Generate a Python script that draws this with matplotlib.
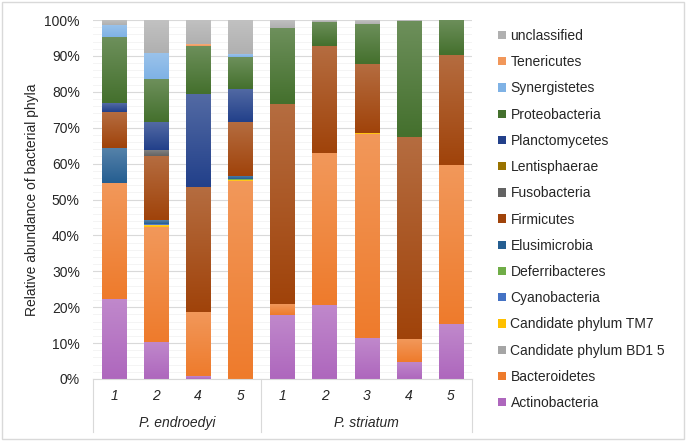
import numpy as np
import matplotlib
matplotlib.use("Agg")
import matplotlib.pyplot as plt
from matplotlib.patches import Patch, Rectangle
from matplotlib.colors import to_rgb
import matplotlib.transforms as mtransforms

plt.rcParams['font.family'] = ['Liberation Sans', 'DejaVu Sans']

# ---- data (percent) ----
sample_labels = ["1", "2", "4", "5", "1", "2", "3", "4", "5"]
groups = ["P. endroedyi", "P. striatum"]
group_sizes = [4, 5]

phyla = ["Actinobacteria", "Bacteroidetes", "Candidate phylum BD1 5",
         "Candidate phylum TM7", "Cyanobacteria", "Deferribacteres",
         "Elusimicrobia", "Firmicutes", "Fusobacteria", "Lentisphaerae",
         "Planctomycetes", "Proteobacteria", "Synergistetes", "Tenericutes",
         "unclassified"]

actinobacteria = [22.2, 10.4, 0.8, 0.0, 17.9, 20.7, 11.3, 4.8, 15.3]
bacteroidetes  = [32.5, 32.0, 18.0, 55.1, 3.0, 42.3, 57.0, 6.3, 44.2]
bd1_5          = [0.0, 0.0, 0.0, 0.0, 0.0, 0.0, 0.0, 0.0, 0.0]
tm7            = [0.0, 0.5, 0.0, 0.2, 0.0, 0.0, 0.3, 0.0, 0.0]
cyanobacteria  = [0.0, 0.4, 0.0, 0.0, 0.0, 0.0, 0.0, 0.0, 0.0]
deferribacteres= [0.0, 0.0, 0.0, 0.3, 0.0, 0.0, 0.0, 0.0, 0.0]
elusimicrobia  = [9.7, 1.0, 0.0, 1.0, 0.0, 0.0, 0.0, 0.0, 0.0]
firmicutes     = [10.0, 17.8, 34.7, 15.0, 55.7, 29.8, 19.1, 56.3, 30.7]
fusobacteria   = [0.0, 1.8, 0.0, 0.0, 0.0, 0.0, 0.0, 0.0, 0.0]
lentisphaerae  = [0.0, 0.0, 0.0, 0.0, 0.0, 0.0, 0.0, 0.0, 0.0]
planctomycetes = [2.5, 7.7, 25.8, 9.3, 0.0, 0.0, 0.0, 0.0, 0.0]
proteobacteria = [18.3, 11.9, 13.4, 8.9, 21.1, 6.7, 11.2, 32.4, 9.8]
synergistetes  = [3.4, 7.4, 0.0, 0.6, 0.0, 0.0, 0.0, 0.0, 0.0]
tenericutes    = [0.0, 0.0, 0.5, 0.0, 0.0, 0.0, 0.0, 0.0, 0.0]
unclassified   = [1.4, 9.1, 6.8, 9.6, 2.3, 0.5, 1.1, 0.2, 0.0]

series = [actinobacteria, bacteroidetes, bd1_5, tm7, cyanobacteria,
          deferribacteres, elusimicrobia, firmicutes, fusobacteria,
          lentisphaerae, planctomycetes, proteobacteria, synergistetes,
          tenericutes, unclassified]

colors = ["#AE67BD", "#EE7B2C", "#A5A5A5", "#FFC000", "#4472C4",
          "#70AD47", "#255E91", "#A0430A", "#636363", "#997300",
          "#22408A", "#44702D", "#7FB2E5", "#F1975A", "#B0B0B0"]


def lighten(c, f):
    r = np.array(to_rgb(c))
    return r + (1 - r) * f


W, H = 686, 441
fig = plt.figure(figsize=(W / 100, H / 100), dpi=100)
left, right, top, bottom = 93, 472, 20, 379
ax = fig.add_axes([left / W, 1 - bottom / H, (right - left) / W, (bottom - top) / H])

x = np.arange(len(sample_labels))
base = np.zeros(len(x))
bar_w = 0.58
for vals, col in zip(series, colors):
    vals = np.array(vals, dtype=float)
    cont = ax.bar(x, vals, bottom=base, width=bar_w, color=col, linewidth=0, zorder=2)
    for rect in cont.patches:
        h = rect.get_height()
        if h <= 0:
            continue
        x0, y0, w = rect.get_x(), rect.get_y(), rect.get_width()
        t = np.linspace(0, 1, 64)[:, None]
        c0 = np.array(to_rgb(col))
        c1 = lighten(col, 0.22)
        img = (c0[None, :] * (1 - t) + c1[None, :] * t)[:, None, :]
        ax.imshow(img, extent=[x0, x0 + w, y0, y0 + h], origin='lower',
                  aspect='auto', interpolation='bilinear', zorder=2.1)
    base += vals

ax.set_xlim(-0.5, len(x) - 0.5)
ax.set_ylim(0, 100)
ax.set_yticks(np.arange(0, 101, 10))
ax.set_yticklabels([f"{v}%" for v in range(0, 101, 10)])
ax.set_yticks(np.arange(0, 101, 2), minor=True)
ax.tick_params(axis='y', which='both', length=0, pad=9.5, labelsize=10,
               labelcolor='#262626')
ax.grid(axis='y', which='major', color='#D9D9D9', linewidth=0.8, zorder=0)
ax.grid(axis='y', which='minor', color='#F2F2F2', linewidth=0.6, zorder=0)
ax.set_axisbelow(True)
ax.set_xticks([])
for s in ['top', 'right', 'left']:
    ax.spines[s].set_visible(False)
ax.spines['bottom'].set_color('#D9D9D9')
ax.spines['bottom'].set_linewidth(0.8)

# multi-level category axis
trans = mtransforms.blended_transform_factory(ax.transData, ax.transAxes)
depth = -53 / (bottom - top)
for xv in [-0.5, group_sizes[0] - 0.5, len(x) - 0.5]:
    ax.plot([xv, xv], [0, depth], transform=trans, color='#D9D9D9',
            linewidth=0.8, clip_on=False)
num_y = -17 / (bottom - top)
grp_y = -44 / (bottom - top)
for xi, lab in zip(x, sample_labels):
    ax.text(xi, num_y, lab, transform=trans, ha='center', va='center',
            style='italic', fontsize=10, color='#262626')
start = 0
for g, n in zip(groups, group_sizes):
    ax.text(start + (n - 1) / 2, grp_y, g, transform=trans, ha='center',
            va='center', style='italic', fontsize=10, color='#262626')
    start += n

fig.text(32 / W, 1 - ((top + bottom) / 2) / H,
         "Relative abundance of bacterial phyla", rotation=90,
         ha='center', va='center', fontsize=10, color='#262626')

handles = [Patch(facecolor=c, edgecolor='none') for c in colors][::-1]
fig.legend(handles, phyla[::-1], loc='upper left',
           bbox_to_anchor=(498 / W, 1 - 29 / H), frameon=False,
           handlelength=0.55, handleheight=0.55, handletextpad=0.35,
           labelspacing=0.88, borderpad=0, borderaxespad=0,
           fontsize=10, labelcolor='#262626')

fig.patches.append(Rectangle((1.5 / W, 2 / H), (W - 4) / W, (H - 4) / H,
                             transform=fig.transFigure, fill=False,
                             edgecolor='#D9D9D9', linewidth=1))

fig.savefig("out.png", dpi=100)
